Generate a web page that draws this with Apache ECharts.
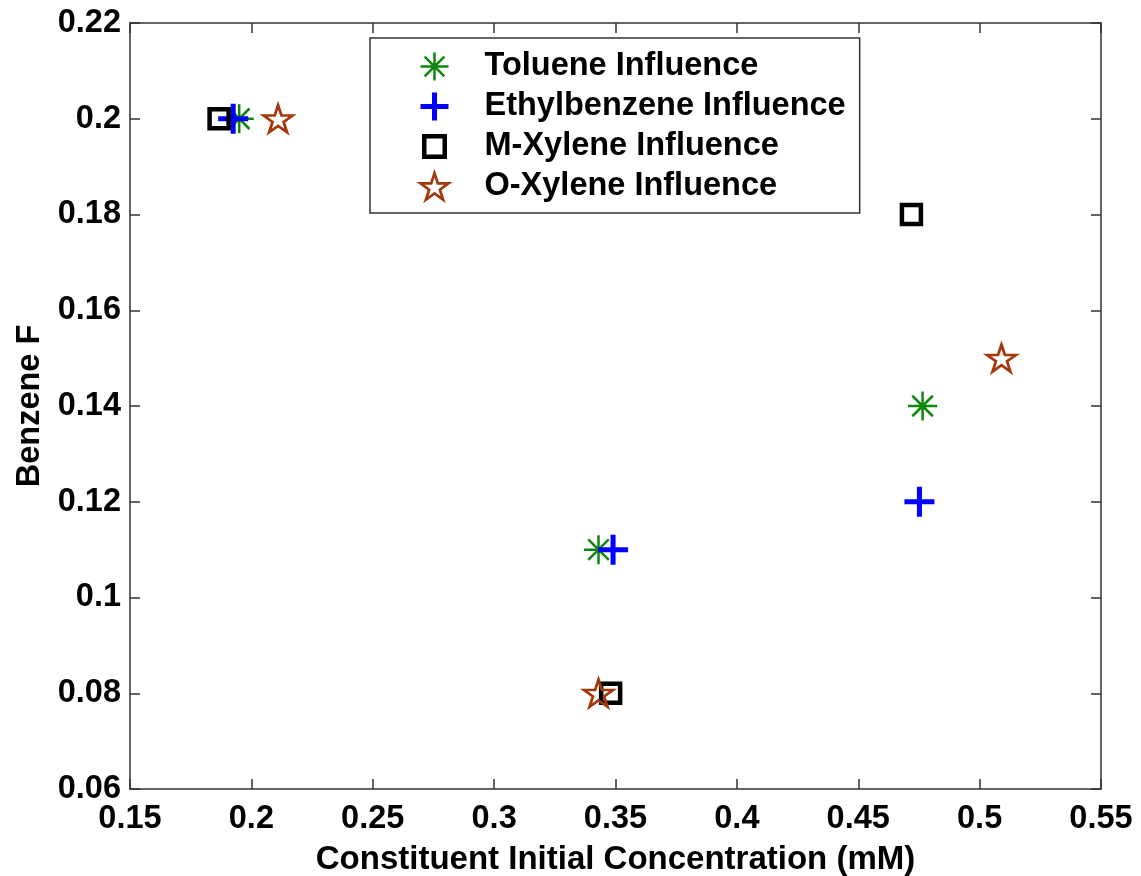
<!DOCTYPE html>
<html>
<head>
<meta charset="utf-8">
<script src="https://cdn.jsdelivr.net/npm/echarts@6/dist/echarts.min.js"></script>
<style>html,body{margin:0;padding:0;background:#fff;}#c{width:1141px;height:876px;}</style>
</head>
<body>
<div id="c"></div>
<script>
// ---- data ----
var seriesNames = ['Toluene Influence', 'Ethylbenzene Influence', 'M-Xylene Influence', 'O-Xylene Influence'];
var tolueneX = [0.195, 0.343, 0.4765];
var tolueneY = [0.20, 0.11, 0.14];
var ethylX = [0.1925, 0.349, 0.4752];
var ethylY = [0.20, 0.11, 0.12];
var mxyleneX = [0.1867, 0.348, 0.4719];
var mxyleneY = [0.20, 0.08, 0.18];
var oxyleneX = [0.211, 0.343, 0.509];
var oxyleneY = [0.20, 0.08, 0.15];
var xTicks = [0.15, 0.2, 0.25, 0.3, 0.35, 0.4, 0.45, 0.5, 0.55];
var yTicks = [0.06, 0.08, 0.1, 0.12, 0.14, 0.16, 0.18, 0.2, 0.22];

function pairs(xs, ys) { return xs.map(function (x, i) { return [x, ys[i]]; }); }

var FONT = '"Liberation Sans", Arial, sans-serif';
var GREEN = '#0f870f', BLUE = '#0000ff', BLACK = '#000000', BROWN = '#a3380c';
var asterisk = 'path://M0,10L20,10M10,0L10,20M2.93,2.93L17.07,17.07M17.07,2.93L2.93,17.07';
var plus = 'path://M0,10L20,10M10,0L10,20';
var star = 'path://M10,0L12.245,6.91L19.511,6.91L13.633,11.18L15.878,18.09L10,13.82L4.122,18.09L6.367,11.18L0.489,6.91L7.755,6.91Z';
var legendSquare = 'path://M0,0M3.5,3.5L22.5,3.5L22.5,22.5L3.5,22.5ZM26,26';

var styles = [
  { color: 'rgba(0,0,0,0)', borderColor: GREEN, borderWidth: 2.5, opacity: 1 },
  { color: 'rgba(0,0,0,0)', borderColor: BLUE, borderWidth: 5, opacity: 1 },
  { color: 'rgba(0,0,0,0)', borderColor: BLACK, borderWidth: 4.5, opacity: 1 },
  { color: 'rgba(0,0,0,0)', borderColor: BROWN, borderWidth: 2.7, opacity: 1 }
];

var axisLineStyle = { color: '#333', width: 1.5 };
var chart = echarts.init(document.getElementById('c'), null, { renderer: 'canvas' });
var option = {
  backgroundColor: '#fff',
  animation: false,
  grid: { left: 130, right: 40, top: 23, bottom: 87, containLabel: false, outerBoundsMode: 'none' },
  legend: {
    left: 370, top: 38,
    orient: 'vertical',
    backgroundColor: '#fff',
    borderColor: '#333', borderWidth: 1.5,
    padding: [12, 14, 10, 48],
    itemGap: 7,
    itemWidth: 28, itemHeight: 28,
    textStyle: { fontFamily: FONT, fontWeight: 'bold', fontSize: 32.5, color: '#000', padding: [0, 0, 0, 31] },
    data: [
      { name: seriesNames[0], icon: asterisk, itemStyle: styles[0] },
      { name: seriesNames[1], icon: plus, itemStyle: styles[1] },
      { name: seriesNames[2], icon: legendSquare, itemStyle: styles[2] },
      { name: seriesNames[3], icon: star, itemStyle: styles[3] }
    ]
  },
  xAxis: [{
    type: 'value', min: 0.15, max: 0.55, interval: 0.05, position: 'bottom',
    name: 'Constituent Initial Concentration (mM)', nameLocation: 'middle', nameGap: 54,
    nameTextStyle: { fontFamily: FONT, fontWeight: 'bold', fontSize: 33, color: '#000' },
    axisLine: { show: true, lineStyle: axisLineStyle },
    axisTick: { show: true, inside: true, length: 10, lineStyle: axisLineStyle },
    axisLabel: { margin: 14, fontFamily: FONT, fontWeight: 'bold', fontSize: 32.5, color: '#000',
      formatter: function (v) { return String(parseFloat(v.toFixed(2))); } },
    splitLine: { show: false }
  }, {
    type: 'value', min: 0.15, max: 0.55, interval: 0.05, position: 'top',
    axisLine: { show: true, lineStyle: axisLineStyle },
    axisTick: { show: true, inside: true, length: 10, lineStyle: axisLineStyle },
    axisLabel: { show: false }, splitLine: { show: false }
  }],
  yAxis: [{
    type: 'value', min: 0.06, max: 0.22, interval: 0.02, position: 'left',
    name: 'Benzene F', nameLocation: 'middle', nameGap: 83, nameRotate: 90,
    nameTextStyle: { fontFamily: FONT, fontWeight: 'bold', fontSize: 32.5, color: '#000' },
    axisLine: { show: true, lineStyle: axisLineStyle },
    axisTick: { show: true, inside: true, length: 10, lineStyle: axisLineStyle },
    axisLabel: { margin: 9, fontFamily: FONT, fontWeight: 'bold', fontSize: 32.5, color: '#000',
      formatter: function (v) { return String(parseFloat(v.toFixed(2))); } },
    splitLine: { show: false }
  }, {
    type: 'value', min: 0.06, max: 0.22, interval: 0.02, position: 'right',
    axisLine: { show: true, lineStyle: axisLineStyle },
    axisTick: { show: true, inside: true, length: 10, lineStyle: axisLineStyle },
    axisLabel: { show: false }, splitLine: { show: false }
  }],
  series: [{
    name: seriesNames[0], type: 'scatter', data: pairs(tolueneX, tolueneY),
    symbol: asterisk, symbolSize: 29, itemStyle: styles[0]
  }, {
    name: seriesNames[1], type: 'scatter', data: pairs(ethylX, ethylY),
    symbol: plus, symbolSize: 30, itemStyle: styles[1]
  }, {
    name: seriesNames[2], type: 'scatter', data: pairs(mxyleneX, mxyleneY),
    symbol: 'rect', symbolSize: 19, itemStyle: styles[2]
  }, {
    name: seriesNames[3], type: 'scatter', data: pairs(oxyleneX, oxyleneY),
    symbol: star, symbolSize: [29, 27], itemStyle: styles[3]
  }]
};
chart.setOption(option);
</script>
</body>
</html>
